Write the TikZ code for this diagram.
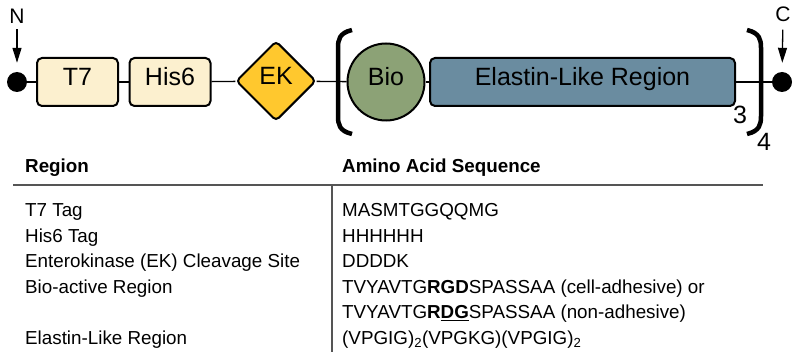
\documentclass[tikz,border=0pt]{standalone}
\usepackage{fontspec}
\setmainfont{Liberation Sans}
\usetikzlibrary{arrows.meta,positioning,calc,shapes.geometric}
\newcommand{\partfont}{\fontsize{25}{30}\selectfont}
\newcommand{\tblfont}{\fontsize{18.8}{22}\selectfont}
\definecolor{tagcream}{HTML}{FCF0CF}
\definecolor{ekgold}{HTML}{FFC82E}
\definecolor{biogreen}{HTML}{8CA276}
\definecolor{elrblue}{HTML}{6A8CA0}
\definecolor{rulegray}{HTML}{555555}

\begin{document}
\begin{tikzpicture}[
		x=1pt, y=-1pt,
		part/.style={draw, line width=2pt, font=\partfont, text height=0.72em, text depth=0pt, inner sep=0pt},
		tag/.style={part, rounded corners=5pt, fill=tagcream, minimum width=81pt, minimum height=48pt},
		site/.style={part, diamond, rounded corners=4pt, fill=ekgold, minimum width=80pt, minimum height=80pt},
		bio/.style={part, circle, fill=biogreen, minimum size=77pt},
		elr/.style={part, rounded corners=5pt, fill=elrblue, minimum width=305pt, minimum height=48pt},
		term/.style={circle, fill=black, inner sep=0pt, minimum size=20pt},
		lbl/.style={font=\partfont, inner sep=0pt},
		bone/.style={line width=1.3pt},
		pointer/.style={bone, -{Triangle[length=15pt,width=9pt]}},
		brak/.style={line width=4.5pt},
		tbl/.style={anchor=base west, inner sep=0pt, font=\tblfont},
		rule/.style={draw=rulegray, line width=1.5pt}
		]
		
		\useasboundingbox (0,0) rectangle (800,358);
		
		% -------------------------
		% Construct
		% -------------------------
		\node[term] (Ndot) at (17,82) {};
		\node[tag] (T7) at (77.5,82) {T7};
		\node[tag] (His) at (170,82) {His6};
		\node[site] (EK) at (276,81) {EK};
		\node[bio] (Bio) at (386,82) {Bio};
		\node[elr] (ELR) at (582.5,82) {Elastin-Like Region};
		\node[term] (Cdot) at (782,82) {};
		
		\node[lbl, font=\fontsize{21}{24}\selectfont] (Nlbl) at (17,16) {N};
		\node[lbl, font=\fontsize{21}{24}\selectfont] (Clbl) at (783,14) {C};
		\node[lbl] (rep3) at (740,115) {3};
		\node[lbl] (rep4) at (764,142) {4};
		
		% backbone
		\draw[bone] (Ndot) -- (T7);
		\draw[bone] (T7) -- (His);
		\draw[bone] (His) -- (EK);
		\draw[bone] (EK) -- (Bio);
		\draw[bone] (Bio) -- (ELR);
		\draw[bone] (ELR) -- (Cdot);
		
		\draw[pointer, shorten <=6pt, shorten >=9pt] (Nlbl) -- (Ndot);
		\draw[pointer, shorten <=8pt, shorten >=9pt] (Clbl) -- (Cdot);
		
		% brackets
		\draw[brak] (352,30) .. controls (339,33) and (338,40) .. (338,48) -- (338,116)
		.. controls (338,124) and (339,131) .. (352,134);
		\draw[brak] (747,30) .. controls (760,33) and (761,40) .. (761,48) -- (761,116)
		.. controls (761,124) and (760,131) .. (747,134);
		
		% -------------------------
		% Table
		% -------------------------
		\node[tbl] (hReg) at (25,173) {\textbf{Region}};
		\node[tbl] (hSeq) at (342,172.5) {\textbf{Amino Acid Sequence}};
		
		\coordinate (ruleL) at (13,185);
		\coordinate (ruleR) at (763,185);
		\coordinate (colTop) at (332,185);
		\coordinate (colBot) at (332,352);
		\draw[rule] (ruleL) -- (ruleR);
		\draw[rule] (colTop) -- (colBot);
		
		\node[tbl] (r1) at (25,216.5) {T7 Tag};
		\node[tbl] (r2) at (25,242) {His6 Tag};
		\node[tbl] (r3) at (25,267.5) {Enterokinase (EK) Cleavage Site};
		\node[tbl] (r4) at (25,293) {Bio-active Region};
		\node[tbl] (r6) at (25,344) {Elastin-Like Region};
		
		\node[tbl] (s1) at (342,216.5) {MASMTGGQQMG};
		\node[tbl] (s2) at (342,242) {HHHHHH};
		\node[tbl] (s3) at (342,267.5) {DDDDK};
		\node[tbl] (s4) at (342,293) {TVYAVTG\textbf{RGD}SPASSAA (cell-adhesive) or};
		\node[tbl] (s5) at (342,318.5) {TVYAVTG\textbf{R\underline{DG}}SPASSAA (non-adhesive)};
		\node[tbl] (s6) at (342,344) {(VPGIG)\textsubscript{2}(VPGKG)(VPGIG)\textsubscript{2}};
		
	\end{tikzpicture}
\end{document}
